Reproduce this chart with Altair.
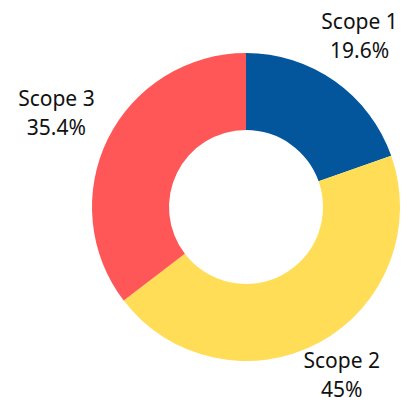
import altair as alt
import pandas as pd

categories = ["Scope 1", "Scope 2", "Scope 3"]
values = [19.6, 45.0, 35.4]
pct_labels = ["19.6%", "45%", "35.4%"]
colors = ["#03569C", "#FFDD57", "#FF5757"]

df = pd.DataFrame({
    "scope": categories,
    "value": values,
    "order": [0, 1, 2],
    "label": [f"{c}\n{p}" for c, p in zip(categories, pct_labels)],
})

base = alt.Chart(df).encode(
    theta=alt.Theta("value:Q", stack=True),
    order=alt.Order("order:Q"),
    x=alt.value(238),
    y=alt.value(199),
)

arcs = base.mark_arc(outerRadius=154, innerRadius=77).encode(
    color=alt.Color("scope:N", scale=alt.Scale(domain=categories, range=colors), legend=None)
)

text_style = dict(fontSize=21, font="Noto Sans", color="#111111",
                  lineBreak="\n", lineHeight=29, align="center", baseline="middle")


def label_layer(scope, radius, dx, dy):
    return base.mark_text(radius=radius, dx=dx, dy=dy, **text_style).encode(
        text="label:N",
        opacity=alt.condition(f"datum.scope == '{scope}'", alt.value(1), alt.value(0)),
    )


layers = [
    label_layer("Scope 1", 207, -6, -15),
    label_layer("Scope 2", 201, 0, -22),
    label_layer("Scope 3", 207, -4, -15),
]

chart = alt.layer(arcs, *layers).properties(
    width=393, height=394, padding=0, autosize=alt.AutoSizeParams(type="none")
).configure_view(stroke=None)

chart.save("out.html", embed_options={"renderer": "svg", "actions": False})
